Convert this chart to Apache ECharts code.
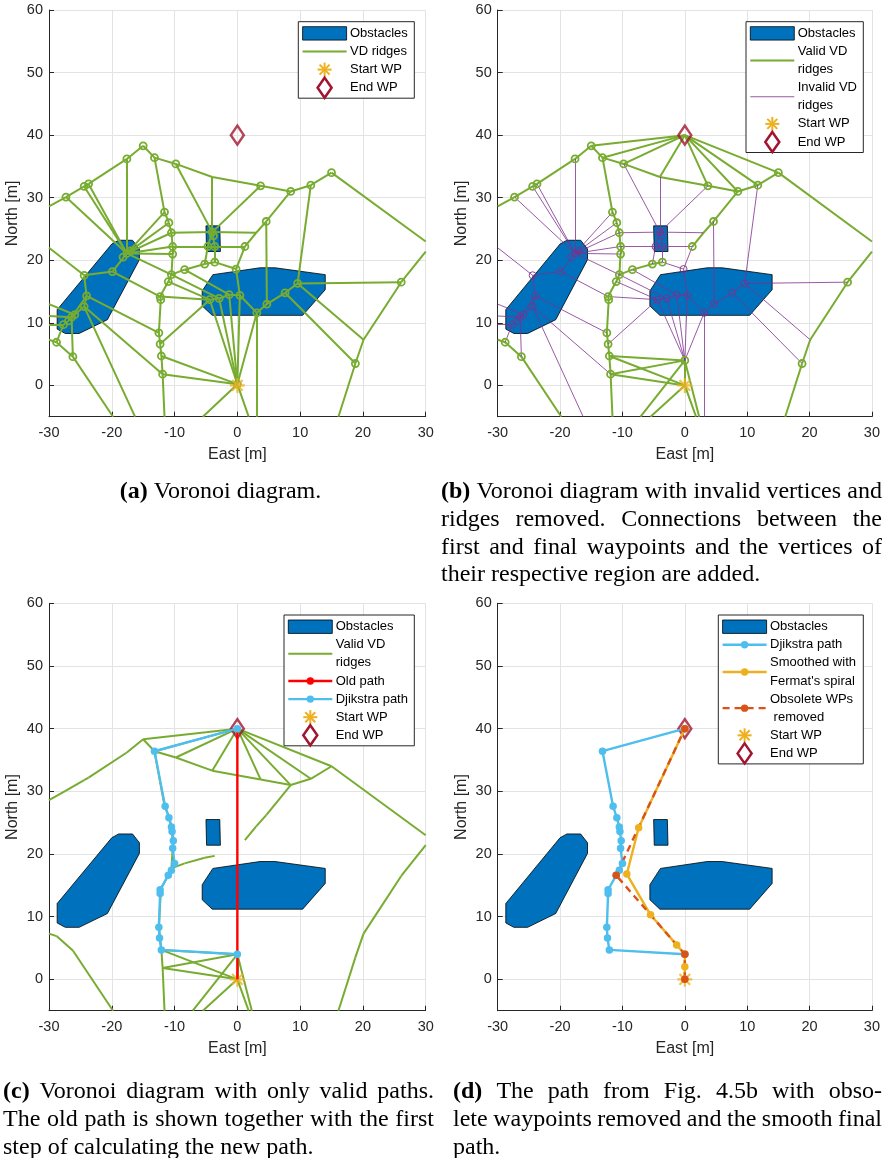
<!DOCTYPE html>
<html>
<head>
<meta charset="utf-8">
<script src="https://cdn.jsdelivr.net/npm/echarts@6/dist/echarts.min.js"></script>
<style>
  html, body { margin: 0; padding: 0; background: #fff; }
  #chart { width: 883px; height: 1158px; }
</style>
</head>
<body>
<div id="chart"></div>
<script>
// ---------------- data ----------------
const startWP = [0, 0];
const endWP = [0, 40];

// obstacle outlines (East, North)
const obstacleLeft = [[-28.7,12.1],[-20.0,22.6],[-18.9,23.2],[-16.7,23.2],[-15.6,21.8],[-15.6,20.1],[-20.7,10.5],[-25.2,8.3],[-27.4,8.3],[-28.7,9.0]];
const obstacleSmall = [[-5.0,25.5],[-2.8,25.5],[-2.7,21.4],[-4.9,21.4]];
const obstacleRight = [[-3.9,17.7],[3.6,18.8],[6.0,18.8],[14.0,17.7],[14.0,15.3],[10.4,11.2],[-4.0,11.2],[-5.6,12.7],[-5.6,15.1]];

// Voronoi vertices (index = id)
const vdVertices = [
  [-27.3,30.1],[-24.4,31.8],[-23.7,32.2],[-17.6,36.2],[-15.0,38.3],   // 0-4
  [-13.2,36.4],[-9.8,35.4],[-4.0,33.3],[3.7,31.9],[8.5,31.0],         // 5-9
  [11.7,32.0],[15.0,34.0],[-11.6,27.7],[-10.9,26.0],[-10.5,24.4],     // 10-14
  [-10.3,22.2],[-10.3,21.0],[-4.0,24.5],[-4.7,22.2],[-3.6,22.2],      // 15-19
  [1.2,22.2],[4.6,26.2],[-17.6,21.1],[-19.9,18.2],[-24.4,17.6],       // 20-24
  [-8.4,18.5],[-5.2,19.4],[-3.6,19.7],[-0.2,18.6],[-10.5,17.7],       // 25-29
  [-11.0,16.6],[9.6,16.3],[26.1,16.5],[7.6,14.8],[-24.0,14.3],        // 30-34
  [-12.3,14.2],[0.4,14.4],[-1.3,14.5],[-2.9,13.9],[-4.4,13.7],        // 35-39
  [4.7,13.0],[3.1,11.6],[-24.4,12.6],[-26.4,10.9],[-27.7,9.7],        // 40-44
  [-12.5,8.4],[-12.3,6.6],[-28.8,6.9],[-26.2,4.6],[-12.1,4.7],        // 45-49
  [18.8,3.5],[-11.9,1.8],[0.0,4.0],[0.0,0.2],[20.1,7.3],              // 50-54
  [-30.0,28.6],[30.0,23.0],[30.0,21.4],[16.1,-5.0],[-30.0,7.3],       // 55-59
  [-19.8,-5.0],[-11.6,-5.0],[-5.5,-5.0],[1.8,-5.0],[3.1,-5.0],        // 60-64
  [-16.3,-5.0],[-30.0,22.0],[3.0,24.4],[-7.1,-5.0],[2.3,-5.0],        // 65-69
  [-18.2,20.5],[-17.0,21.5],[-26.9,10.3],[-25.9,11.3],[-3.8,23.9],    // 70-74
  [-12.2,13.7],[-30.0,13.0],[-30.0,11.1],[-30.0,9.7]                  // 75-78
];

// bends and border crossings: drawn without a vertex marker
const unmarkedVertices = [7,54,55,56,57,58,59,60,61,62,63,64,65,66,67,68,69,76,77,78];
// vertices inside / on an obstacle
const invalidVertices = [17,18,19,22,23,24,28,31,33,34,36,37,38,39,40,41,42,43,44,70,71,72,73,74];

// VD ridges as vertex pairs
const vdRidges = [
  [55,0],[0,1],[1,2],[2,3],[3,4],[4,5],[5,6],[6,7],[7,8],[8,9],[9,10],[10,11],[11,56],
  [5,12],[12,13],[13,14],[14,15],[15,16],[16,29],[29,30],[30,35],[35,75],[75,45],[45,46],[46,49],[49,51],[51,61],
  [29,25],[25,26],[26,27],
  [9,21],[21,67],[67,20],[57,32],[32,54],[54,50],[50,58],
  [59,47],[47,48],[48,60],
  [22,0],[22,1],[22,2],[22,3],[22,12],[22,13],[22,14],[22,15],[22,16],[22,23],[22,29],[22,70],[22,71],
  [23,24],[23,35],[66,24],[24,34],[34,42],[34,43],[42,43],[34,45],[42,51],[42,65],[43,72],[72,44],[43,73],[73,76],[43,77],[44,78],[44,47],[43,48],
  [6,17],[7,17],[8,17],[14,17],[17,74],[17,18],[17,19],[17,67],[15,18],[18,19],[19,20],[18,26],[19,27],[27,28],[28,20],[28,36],
  [39,38],[38,37],[37,36],[36,41],[41,40],[40,33],[33,31],[31,32],[31,10],[31,54],[21,40],[41,64],[33,50],[35,39],[30,39],[29,38],[25,37],[46,39]
];
// ridges of the start region: raw diagram (vertex 53) and after the start region is rebuilt (vertex 52)
const startRegionRaw = [[49,53],[51,53],[36,53],[37,53],[38,53],[39,53],[41,53],[53,62],[53,63]];
const startRegionNew = [[49,52],[51,52],[36,52],[37,52],[38,52],[39,52],[41,52],[52,68],[52,69]];
// vertices joined to the first and final waypoints
const startLinks = [49,51,52,62,63];
const endLinks = [4,5,6,7,8,9,10,11];

// paths
const oldPath = [[0,40],[0,0]];
const dijkstraPath = [[0,40],[-13.2,36.4],[-11.5,27.6],[-10.9,25.8],[-10.5,24.3],[-10.4,23.6],[-10.2,22.1],[-10.3,20.9],[-10.0,18.5],[-10.5,17.4],[-11.0,16.6],[-12.3,14.3],[-12.3,13.7],[-12.5,8.3],[-12.4,6.6],[-12.1,4.7],[0,4.0]];
const smoothedPath = [[0,40],[-7.4,24.2],[-9.3,16.8],[-5.5,10.3],[-1.3,5.5],[0,4.0],[0,2.0],[0,0]];
const reducedPath = [[0,0],[0,4.0],[-11.0,16.6],[0,40]];

// text
const legendA = ['Obstacles','VD ridges','Start WP','End WP'];
const legendB = ['Obstacles','Valid VD\nridges','Invalid VD\nridges','Start WP','End WP'];
const legendC = ['Obstacles','Valid VD\nridges','Old path','Djikstra path','Start WP','End WP'];
const legendD = ['Obstacles','Djikstra path','Smoothed with\nFermat\'s spiral','Obsolete WPs\n removed','Start WP','End WP'];
const captionA = ['(a) Voronoi diagram.'];
const captionB = ['(b) Voronoi diagram with invalid vertices and','ridges removed. Connections between the','first and final waypoints and the vertices of','their respective region are added.'];
const captionC = ['(c) Voronoi diagram with only valid paths.','The old path is shown together with the first','step of calculating the new path.'];
const captionD = ['(d) The path from Fig. 4.5b with obso-','lete waypoints removed and the smooth final','path.'];

// ---------------- styling ----------------
const SANS = '"Liberation Sans", Arial, Helvetica, sans-serif';
const SERIF = '"Liberation Serif", "Times New Roman", serif';
const COL = {green:'#77AC30', purple:'#7E2F8E', blue:'#0072BD', cyan:'#4DBEEE', orange:'#EDB120',
             rust:'#D95319', red:'#FF0000', wine:'#A2142F', axis:'#262626', grid:'#e3e3e3'};
// eight-ray asterisk marker
const ASTERISK = 'path://M-1.4,-10L1.4,-10L1.4,10L-1.4,10Z M-10,-1.4L10,-1.4L10,1.4L-10,1.4Z ' +
  'M-6.08,-8.06L8.06,6.08L6.08,8.06L-8.06,-6.08Z M-8.06,6.08L6.08,-8.06L8.06,-6.08L-6.08,8.06Z';
const obstacles = [obstacleLeft, obstacleSmall, obstacleRight];

const grids = [
  {left: 49,    top: 10,    width: 376.7, height: 406.7},
  {left: 497.7, top: 10,    width: 376.6, height: 406.7},
  {left: 49,    top: 603.3, width: 376.7, height: 407.4},
  {left: 497.7, top: 603.3, width: 376.6, height: 407.4}
];

const xAxes = grids.map((g, i) => ({
  gridIndex: i, type: 'value', min: -30, max: 30, interval: 10,
  axisLine: {onZero: false, lineStyle: {color: COL.axis, width: 1}},
  axisTick: {inside: true, length: 5, lineStyle: {color: COL.axis}},
  axisLabel: {fontSize: 14.5, color: COL.axis, margin: 9, fontFamily: SANS},
  splitLine: {show: true, lineStyle: {color: COL.grid, width: 1}},
  name: 'East [m]', nameLocation: 'middle', nameGap: 30,
  nameTextStyle: {fontSize: 16, color: COL.axis, fontFamily: SANS}
}));
const yAxes = grids.map((g, i) => ({
  gridIndex: i, type: 'value', min: -5, max: 60, splitNumber: 5,
  axisLine: {onZero: false, lineStyle: {color: COL.axis, width: 1}},
  axisTick: {inside: true, length: 5, lineStyle: {color: COL.axis}},
  axisLabel: {fontSize: 14.5, color: COL.axis, margin: 6, fontFamily: SANS,
              formatter: v => (v < 0 ? '' : String(v))},
  splitLine: {show: true, lineStyle: {color: COL.grid, width: 1}},
  name: 'North [m]', nameLocation: 'middle', nameGap: 28, nameRotate: 90,
  nameTextStyle: {fontSize: 16, color: COL.axis, fontFamily: SANS}
}));

// ---------------- series builders ----------------
function obstacleSeries(g) {
  return {
    type: 'custom', coordinateSystem: 'cartesian2d', xAxisIndex: g, yAxisIndex: g, silent: true,
    data: obstacles.map((o, k) => [k]),
    renderItem: (params, api) => {
      const poly = obstacles[api.value(0)];
      return {type: 'polygon', shape: {points: poly.map(p => api.coord(p))},
              style: {fill: COL.blue, stroke: '#000', lineWidth: 0.8}};
    }
  };
}
function segSeries(g, segs, color, width) {
  return {
    type: 'lines', coordinateSystem: 'cartesian2d', xAxisIndex: g, yAxisIndex: g, silent: true,
    lineStyle: {color: color, width: width, opacity: 1, curveness: 0},
    data: segs.map(s => ({coords: s}))
  };
}
const pairSegs = pairs => pairs.map(([a, b]) => [vdVertices[a], vdVertices[b]]);
function ringSeries(g, idx, color, bw) {
  return {
    type: 'scatter', xAxisIndex: g, yAxisIndex: g, silent: true, symbol: 'circle', symbolSize: 7,
    itemStyle: {color: 'rgba(0,0,0,0)', borderColor: color, borderWidth: bw, opacity: 1},
    data: idx.map(i => vdVertices[i])
  };
}
function pathSeries(g, pts, color, dashed, marks) {
  return {
    type: 'line', xAxisIndex: g, yAxisIndex: g, silent: true,
    symbol: marks === false ? 'none' : 'circle', symbolSize: 7.5,
    showSymbol: marks !== false, showAllSymbol: true,
    lineStyle: {color: color, width: 2.4, type: dashed ? [7, 5] : 'solid'},
    itemStyle: {color: color, borderWidth: 0},
    data: pts
  };
}
function wpSeries(g) {
  return [
    {type: 'scatter', xAxisIndex: g, yAxisIndex: g, silent: true, symbol: ASTERISK, symbolSize: 15,
     itemStyle: {color: COL.orange}, data: [startWP]},
    {type: 'scatter', xAxisIndex: g, yAxisIndex: g, silent: true, symbol: 'diamond', symbolSize: [13, 19],
     itemStyle: {color: 'rgba(0,0,0,0)', borderColor: COL.wine, borderWidth: 2.5}, data: [endWP]}
  ];
}

const isInvalid = i => invalidVertices.indexOf(i) >= 0;
const isMarked = i => unmarkedVertices.indexOf(i) < 0;
const allIdx = vdVertices.map((v, i) => i);
const wpSegs = startLinks.map(i => [startWP, vdVertices[i]]).concat(endLinks.map(i => [endWP, vdVertices[i]]));

const ridgesB = vdRidges.concat(startRegionNew);
const validPairs = ridgesB.filter(([a, b]) => !isInvalid(a) && !isInvalid(b));
const invalidPairs = ridgesB.filter(([a, b]) => isInvalid(a) || isInvalid(b));

const series = [
  // (a) raw Voronoi diagram
  obstacleSeries(0),
  segSeries(0, pairSegs(vdRidges.concat(startRegionRaw)), COL.green, 2),
  ringSeries(0, allIdx.filter(i => isMarked(i) && i !== 52), COL.green, 1.8),
  ...wpSeries(0),
  // (b) valid / invalid split with waypoint connections
  obstacleSeries(1),
  segSeries(1, pairSegs(validPairs).concat(wpSegs), COL.green, 2),
  ringSeries(1, allIdx.filter(i => isMarked(i) && i !== 53 && !isInvalid(i)), COL.green, 1.8),
  segSeries(1, pairSegs(invalidPairs), COL.purple, 0.8),
  ringSeries(1, allIdx.filter(i => isMarked(i) && i !== 53 && isInvalid(i)), COL.purple, 0.9),
  ...wpSeries(1),
  // (c) valid ridges, old path and Dijkstra path
  obstacleSeries(2),
  segSeries(2, pairSegs(validPairs).concat(wpSegs), COL.green, 2),
  pathSeries(2, oldPath, COL.red, false, false),
  pathSeries(2, dijkstraPath, COL.cyan, false),
  ...wpSeries(2),
  // (d) reduced and smoothed path
  obstacleSeries(3),
  pathSeries(3, dijkstraPath, COL.cyan, false),
  pathSeries(3, smoothedPath, COL.orange, false),
  pathSeries(3, reducedPath, COL.rust, true),
  ...wpSeries(3)
];

// ---------------- legends ----------------
function legendBox(L, T, R, labels, kinds) {
  const els = [];
  const lineH = 18.1;
  const nLines = labels.reduce((s, t) => s + t.split('\n').length, 0);
  const B = T + 11.7 + (nLines - 1) * lineH + 10.5;
  els.push({type: 'rect', z: 100, shape: {x: L, y: T, width: R - L, height: B - T},
            style: {fill: '#fff', stroke: COL.axis, lineWidth: 1}});
  let cy = T + 11.7;
  labels.forEach((label, k) => {
    const parts = label.split('\n');
    const mid = cy + (parts.length - 1) * lineH / 2;
    const x0 = L + 4.3, x1 = L + 48.3, xc = (x0 + x1) / 2;
    const kd = kinds[k];
    if (kd.type === 'patch') {
      els.push({type: 'rect', z: 101, shape: {x: x0, y: mid - 6.7, width: x1 - x0, height: 13.4},
                style: {fill: COL.blue, stroke: '#000', lineWidth: 0.8}});
    } else if (kd.type === 'line') {
      els.push({type: 'line', z: 101, shape: {x1: x0, y1: mid, x2: x1, y2: mid},
                style: {stroke: kd.color, lineWidth: kd.width, lineDash: kd.dash || null}});
      if (kd.dot) els.push({type: 'circle', z: 102, shape: {cx: xc, cy: mid, r: 3.7}, style: {fill: kd.color}});
    } else if (kd.type === 'star') {
      [[0, 7], [7, 0], [5, 5], [5, -5]].forEach(([dx, dy]) => {
        els.push({type: 'line', z: 101, shape: {x1: xc - dx, y1: mid - dy, x2: xc + dx, y2: mid + dy},
                  style: {stroke: COL.orange, lineWidth: 2}});
      });
    } else if (kd.type === 'diamond') {
      els.push({type: 'polygon', z: 101, shape: {points: [[xc, mid - 10], [xc + 7, mid], [xc, mid + 10], [xc - 7, mid]]},
                style: {fill: 'none', stroke: COL.wine, lineWidth: 2.5}});
    }
    parts.forEach((t, j) => {
      els.push({type: 'text', z: 101, x: L + 51.7, y: cy + j * lineH,
                style: {text: t, fontSize: 13, fontFamily: SANS, fill: '#000', align: 'left', verticalAlign: 'middle'}});
    });
    cy += parts.length * lineH;
  });
  return els;
}
const K = {
  patch: {type: 'patch'}, star: {type: 'star'}, diamond: {type: 'diamond'},
  green: {type: 'line', color: COL.green, width: 2},
  purple: {type: 'line', color: COL.purple, width: 0.8},
  red: {type: 'line', color: COL.red, width: 2.4, dot: true},
  cyan: {type: 'line', color: COL.cyan, width: 2.4, dot: true},
  orange: {type: 'line', color: COL.orange, width: 2.4, dot: true},
  rust: {type: 'line', color: COL.rust, width: 2.4, dot: true, dash: [7, 5]}
};

// ---------------- captions ----------------
const CAP_SIZE = 24, CAP_LH = 27.7;
const mctx = document.createElement('canvas').getContext('2d');
function measure(word, bold) {
  mctx.font = (bold ? 'bold ' : '') + CAP_SIZE + 'px ' + SERIF;
  return mctx.measureText(word).width;
}
function caption(lines, x0, x1, y0, centered) {
  const els = [];
  const sp = measure(' ', false);
  lines.forEach((line, li) => {
    const words = line.split(' ').filter(Boolean);
    const bold = words.map((w, wi) => li === 0 && wi === 0);
    const widths = words.map((w, wi) => measure(w, bold[wi]));
    const total = widths.reduce((a, b) => a + b, 0);
    let gap = sp, x = x0;
    if (centered) {
      x = (x0 + x1) / 2 - (total + sp * (words.length - 1)) / 2;
    } else if (li < lines.length - 1 && words.length > 1) {
      gap = (x1 - x0 - total) / (words.length - 1);
    }
    words.forEach((w, wi) => {
      els.push({type: 'text', x: x, y: y0 + li * CAP_LH, z: 50,
                style: {text: w, fontSize: CAP_SIZE, fontFamily: SERIF, fontWeight: bold[wi] ? 'bold' : 'normal',
                        fill: '#000', align: 'left', verticalAlign: 'middle'}});
      x += widths[wi] + gap;
    });
  });
  return els;
}

const graphics = [].concat(
  legendBox(298.3, 21.7, 414.3, legendA, [K.patch, K.green, K.star, K.diamond]),
  legendBox(746, 21.7, 863.3, legendB, [K.patch, K.green, K.purple, K.star, K.diamond]),
  legendBox(284, 615, 414.3, legendC, [K.patch, K.green, K.red, K.cyan, K.star, K.diamond]),
  legendBox(718.3, 615, 863.3, legendD, [K.patch, K.cyan, K.orange, K.rust, K.star, K.diamond]),
  caption(captionA, 0, 441, 492, true),
  caption(captionB, 441, 882, 492, false),
  caption(captionC, 3, 434, 1092, false),
  caption(captionD, 453, 882, 1092, false)
);

const chart = echarts.init(document.getElementById('chart'), null, {renderer: 'canvas'});
chart.setOption({
  animation: false,
  backgroundColor: '#fff',
  textStyle: {fontFamily: SANS},
  grid: grids.map(g => Object.assign({containLabel: false}, g)),
  xAxis: xAxes,
  yAxis: yAxes,
  series: series,
  graphic: {elements: graphics}
});
</script>
</body>
</html>
